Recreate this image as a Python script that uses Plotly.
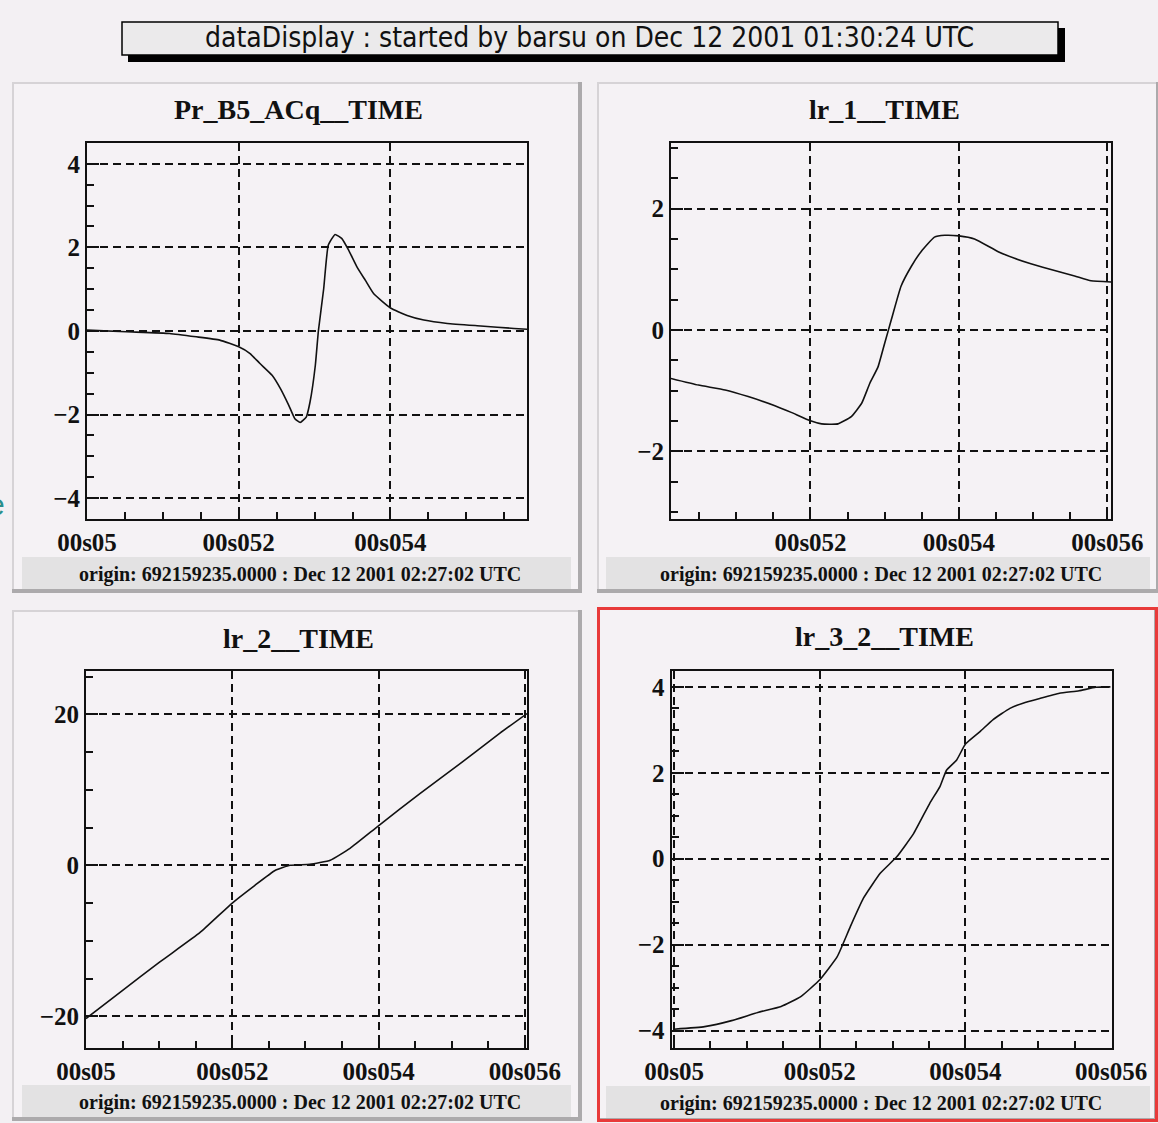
import plotly.graph_objects as go

W, H = 1158, 1123

# ---------------- data (time in ms after the origin, values) ----------------
t_acq = [50.0, 50.52, 51.09, 51.44, 51.75, 52.0, 52.15, 52.28, 52.44, 52.55, 52.66,
         52.74, 52.81, 52.89, 52.94, 53.01, 53.05, 53.12, 53.18, 53.27, 53.36, 53.45,
         53.56, 53.67, 53.78, 54.0, 54.22, 54.44, 54.75, 55.19, 55.63, 55.81]
v_acq = [0.02, -0.02, -0.06, -0.14, -0.22, -0.38, -0.54, -0.78, -1.06, -1.38, -1.78,
         -2.10, -2.19, -2.06, -1.70, -0.82, 0.0, 1.01, 2.05, 2.31, 2.21, 1.93,
         1.53, 1.21, 0.89, 0.55, 0.37, 0.26, 0.18, 0.12, 0.06, 0.04]

t_lr1 = [50.12, 50.49, 50.85, 51.16, 51.52, 51.74, 52.0, 52.15, 52.37, 52.55, 52.69,
         52.80, 52.91, 53.00, 53.09, 53.22, 53.36, 53.49, 53.67, 53.81, 54.0, 54.21,
         54.53, 54.75, 54.97, 55.29, 55.56, 55.78, 56.05]
v_lr1 = [-0.80, -0.91, -0.99, -1.10, -1.25, -1.36, -1.50, -1.55, -1.55, -1.43, -1.21,
         -0.88, -0.61, -0.22, 0.17, 0.72, 1.05, 1.29, 1.53, 1.56, 1.55, 1.50,
         1.29, 1.18, 1.09, 0.98, 0.89, 0.81, 0.79]

t_lr2 = [50.0, 50.47, 51.01, 51.56, 52.0, 52.31, 52.59, 52.79, 53.06, 53.34, 53.61,
         53.99, 54.57, 55.12, 55.66, 56.03]
v_lr2 = [-20.3, -16.8, -12.8, -8.9, -5.0, -2.65, -0.66, 0.0, 0.13, 0.66, 2.25,
         5.17, 9.54, 13.5, 17.5, 20.1]

t_lr32 = [50.0, 50.42, 50.79, 51.15, 51.47, 51.74, 52.0, 52.24, 52.42, 52.60, 52.83,
          53.06, 53.29, 53.51, 53.65, 53.74, 53.88, 54.0, 54.20, 54.38, 54.61, 54.79,
          55.02, 55.29, 55.56, 55.79, 55.99]
v_lr32 = [-3.97, -3.91, -3.77, -3.58, -3.44, -3.21, -2.82, -2.28, -1.58, -0.92, -0.34,
          0.05, 0.59, 1.29, 1.68, 2.06, 2.30, 2.67, 2.96, 3.24, 3.50, 3.62,
          3.73, 3.85, 3.91, 3.99, 4.00]

x_tick_vals = [50, 52, 54, 56]
x_tick_text = ["00s05", "00s052", "00s054", "00s056"]

panel_titles = ["Pr_B5_ACq__TIME", "lr_1__TIME", "lr_2__TIME", "lr_3_2__TIME"]
origin_text = "origin: 692159235.0000 : Dec 12 2001 02:27:02 UTC"
header_text = "dataDisplay : started by barsu on Dec 12 2001 01:30:24 UTC"

series = [(t_acq, v_acq), (t_lr1, v_lr1), (t_lr2, v_lr2), (t_lr32, v_lr32)]

# ---------------- layout geometry (pixels) ----------------
panels = [(12, 82, 582, 593), (597, 82, 1160, 593), (12, 610, 582, 1121), (597, 608, 1158, 1122)]
bands = [(22, 571), (606, 1150), (22, 571), (606, 1150)]
title_x = [298, 884, 298, 884]
plot_boxes = [(87, 142.5, 527, 519), (671, 142.5, 1111, 518.5),
              (86, 670.5, 527, 1048), (671.5, 671, 1111.5, 1047.7)]
x_ranges = [(50.0, 55.80), (50.12, 56.05), (50.0, 56.03), (49.965, 56.005)]
y_ranges = [(-4.5, 4.51), (-3.11, 3.09), (-24.2, 25.8), (-4.4, 4.37)]
y_dticks = [2, 2, 20, 2]
y_minor = [0.5, 0.5, 5, 0.5]

BG = "#f3f0f3"
PANEL = "#f5f2f5"
SERIF = "Liberation Serif, Times New Roman, serif"


def fx(x):
    return x / W


def fy(y):
    return 1 - y / H


def label(text, x, y, font, xanchor="center"):
    return dict(text=text, xref="paper", yref="paper", x=fx(x), y=fy(y),
                xanchor=xanchor, yanchor="middle", showarrow=False, font=font)


fig = go.Figure()
layout = dict(
    width=W, height=H, margin=dict(l=0, r=0, t=0, b=0, pad=0, autoexpand=False),
    paper_bgcolor=BG, plot_bgcolor="rgba(0,0,0,0)", showlegend=False,
)

shapes = []
annotations = []

# header bar with drop shadow
shapes.append(dict(type="rect", xref="paper", yref="paper", layer="below",
                   x0=fx(128), x1=fx(1065), y0=fy(28), y1=fy(62),
                   fillcolor="#000000", line=dict(width=0)))
shapes.append(dict(type="rect", xref="paper", yref="paper", layer="below",
                   x0=fx(122), x1=fx(1058), y0=fy(22), y1=fy(55),
                   fillcolor="#ebeaeb", line=dict(color="#000000", width=1.5)))
annotations.append(label(header_text, 589, 37,
                         dict(family="Liberation Sans Narrow, DejaVu Sans Condensed, Liberation Sans, sans-serif",
                              size=28, color="#111111")))

for i, (px0, py0, px1, py1) in enumerate(panels):
    # panel frame: shadow on right/bottom, face, light edge on left/top
    shapes.append(dict(type="rect", xref="paper", yref="paper", layer="below",
                       x0=fx(px0), x1=fx(px1), y0=fy(py1), y1=fy(py0),
                       fillcolor="#acaaac", line=dict(width=0)))
    shapes.append(dict(type="rect", xref="paper", yref="paper", layer="below",
                       x0=fx(px0), x1=fx(px1 - 4), y0=fy(py1 - 4), y1=fy(py0),
                       fillcolor="#d6d3d6", line=dict(width=0)))
    shapes.append(dict(type="rect", xref="paper", yref="paper", layer="below",
                       x0=fx(px0 + 2), x1=fx(px1 - 4), y0=fy(py1 - 4), y1=fy(py0 + 2),
                       fillcolor=PANEL, line=dict(width=0)))
    # origin band
    bx0, bx1 = bands[i]
    shapes.append(dict(type="rect", xref="paper", yref="paper", layer="below",
                       x0=fx(bx0), x1=fx(bx1), y0=fy(py1 - 4), y1=fy(py1 - 36),
                       fillcolor="#e3e2e3", line=dict(width=0)))
    annotations.append(label(origin_text, (bx0 + bx1) / 2 + 3, py1 - 19,
                             dict(family=SERIF, size=20, color="#111111", weight="bold")))
    # panel title
    annotations.append(label(panel_titles[i], title_x[i], py0 + 28,
                             dict(family=SERIF, size=28, color="#111111", weight="bold")))

# selected panel outline
shapes.append(dict(type="rect", xref="paper", yref="paper",
                   x0=fx(598.5), x1=fx(1156.5), y0=fy(1120.5), y1=fy(608.5),
                   fillcolor="rgba(0,0,0,0)", line=dict(color="#e83a3a", width=3)))

# glyph of a neighbouring window, clipped at the left edge
annotations.append(label("e", 7, 505,
                         dict(family="Liberation Sans, sans-serif", size=30, color="#2a8f8c"),
                         xanchor="right"))

tick_font = dict(family=SERIF, size=25, color="#111111", weight="bold")

for i, ((t, v), (bx0, by0, bx1, by1)) in enumerate(zip(series, plot_boxes)):
    n = "" if i == 0 else str(i + 1)
    xa, ya = "x" + n, "y" + n
    fig.add_trace(go.Scatter(x=t, y=v, mode="lines", xaxis=xa, yaxis=ya,
                             line=dict(color="#111111", width=1.6, shape="spline", smoothing=0.4),
                             hoverinfo="skip"))
    layout["xaxis" + n] = dict(
        domain=[fx(bx0), fx(bx1)], anchor=ya, range=list(x_ranges[i]),
        tickmode="array", tickvals=x_tick_vals, ticktext=x_tick_text,
        ticks="inside", ticklen=12, tickwidth=2, tickcolor="#111111",
        minor=dict(tickmode="linear", tick0=50, dtick=0.5, ticks="inside",
                   ticklen=7, tickwidth=1.5, tickcolor="#111111", showgrid=False),
        showline=True, linecolor="#111111", linewidth=2, mirror=True,
        showgrid=True, gridcolor="#111111", gridwidth=1.5, griddash="8px,5px",
        zeroline=False, tickfont=tick_font, fixedrange=True, automargin=False,
    )
    layout["yaxis" + n] = dict(
        domain=[fy(by1), fy(by0)], anchor=xa, range=list(y_ranges[i]),
        tickmode="linear", tick0=0, dtick=y_dticks[i],
        ticks="inside", ticklen=12, tickwidth=2, tickcolor="#111111",
        minor=dict(tickmode="linear", tick0=0, dtick=y_minor[i], ticks="inside",
                   ticklen=7, tickwidth=1.5, tickcolor="#111111", showgrid=False),
        showline=True, linecolor="#111111", linewidth=2, mirror=True,
        showgrid=True, gridcolor="#111111", gridwidth=1.5, griddash="8px,5px",
        zeroline=False, tickfont=tick_font, fixedrange=True, automargin=False,
    )

layout["shapes"] = shapes
layout["annotations"] = annotations
fig.update_layout(**layout)
fig.write_html("out.html", config={"displayModeBar": False})
